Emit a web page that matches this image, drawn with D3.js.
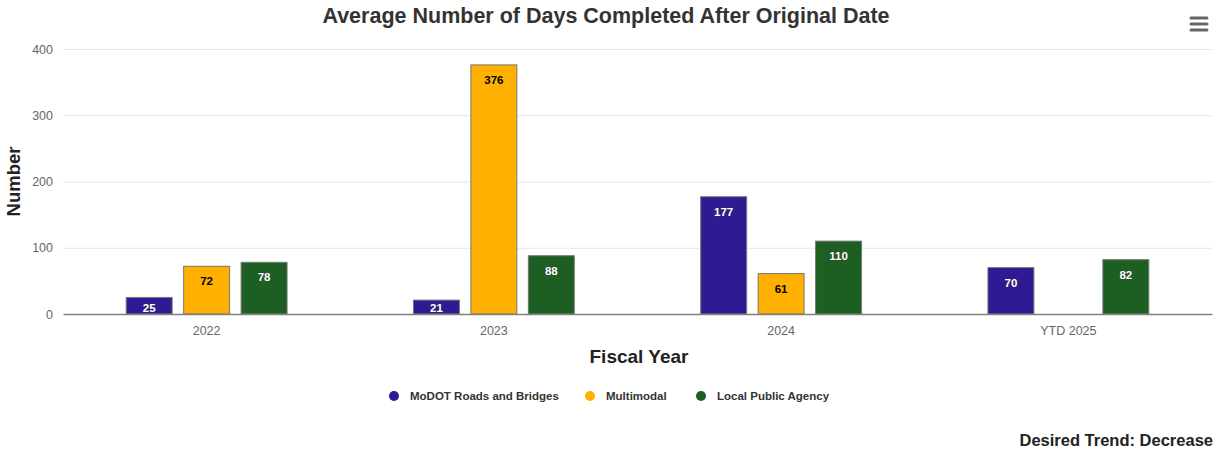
<!DOCTYPE html>
<html>
<head>
<meta charset="utf-8">
<script src="https://cdn.jsdelivr.net/npm/d3@7"></script>
<style>
  html, body { margin: 0; padding: 0; background: #fff; }
  svg { display: block; font-family: "Liberation Sans", Arial, sans-serif; }
</style>
</head>
<body>
<svg id="chart" width="1215" height="449"></svg>
<script>
// Fiscal-year categories and the average days per program
const categories = ["2022", "2023", "2024", "YTD 2025"];
const seriesNames = ["MoDOT Roads and Bridges", "Multimodal", "Local Public Agency"];
const seriesColors = ["#2f1a94", "#ffb000", "#1d5e22"];
const modotValues = [25, 21, 177, 70];
const multimodalValues = [72, 376, 61, null];
const lpaValues = [78, 88, 110, 82];
const yTicks = [0, 100, 200, 300, 400];

const series = [modotValues, multimodalValues, lpaValues];

const svg = d3.select("#chart");
const margin = { left: 63, right: 3, top: 49 };
const W = 1215;
const plotBottom = 314;

const x = d3.scaleBand().domain(categories).range([margin.left, W - margin.right]);
const y = d3.scaleLinear().domain([0, 400]).range([plotBottom, margin.top]);

// group padding 0.2 of the band each side, point padding 0.1 per slot
const groupPad = 0.2 * x.bandwidth();
const slot = (x.bandwidth() - 2 * groupPad) / series.length;
const barW = slot * 0.8;

// gridlines
svg.append("g")
  .selectAll("line")
  .data(yTicks.filter(d => d > 0))
  .join("line")
  .attr("x1", margin.left).attr("x2", W - margin.right)
  .attr("y1", d => y(d) + 0.5).attr("y2", d => y(d) + 0.5)
  .attr("stroke", "#e6e6e6").attr("stroke-width", 1);

// y axis labels
const yAxis = d3.axisLeft(y).tickValues(yTicks).tickSize(0).tickPadding(10);
const yg = svg.append("g").attr("transform", `translate(${margin.left},0)`).call(yAxis);
yg.select(".domain").remove();
yg.selectAll("text").attr("fill", "#666").attr("font-size", 12.5).attr("font-family", "Liberation Sans, Arial, sans-serif");

// bars
series.forEach((vals, si) => {
  const g = svg.append("g");
  const data = categories.map((c, i) => ({ c, v: vals[i] })).filter(d => d.v != null);
  g.selectAll("rect")
    .data(data)
    .join("rect")
    .attr("x", d => x(d.c) + groupPad + si * slot + (slot - barW) / 2)
    .attr("y", d => y(d.v))
    .attr("width", barW)
    .attr("height", d => y(0) - y(d.v))
    .attr("fill", seriesColors[si])
    .attr("stroke", "#777")
    .attr("stroke-width", 1);

  const dark = si !== 1;
  g.selectAll("text")
    .data(data)
    .join("text")
    .attr("x", d => x(d.c) + groupPad + si * slot + slot / 2)
    .attr("y", d => Math.min(y(d.v) + 19, y(0) - 2))
    .attr("text-anchor", "middle")
    .attr("font-size", 11.5)
    .attr("font-weight", "bold")
    .attr("fill", dark ? "#fff" : "#000")
    .attr("stroke", dark ? "#333" : "#fff")
    .attr("stroke-width", dark ? 0.6 : 0)
    .attr("paint-order", "stroke")
    .text(d => d.v);
});

// x axis
const xAxis = d3.axisBottom(x).tickSize(0).tickPadding(12);
const xg = svg.append("g").attr("transform", `translate(0,${plotBottom})`).call(xAxis);
xg.select(".domain").attr("stroke", "#808080").attr("stroke-width", 1.5);
xg.selectAll("text").attr("fill", "#666").attr("font-size", 12.5).attr("font-family", "Liberation Sans, Arial, sans-serif");

// titles
svg.append("text")
  .attr("x", 606).attr("y", 23)
  .attr("text-anchor", "middle")
  .attr("font-size", 21.5).attr("font-weight", "bold").attr("fill", "#333")
  .text("Average Number of Days Completed After Original Date");

svg.append("text")
  .attr("transform", `translate(20,${(margin.top + plotBottom) / 2}) rotate(-90)`)
  .attr("text-anchor", "middle")
  .attr("font-size", 18.5).attr("font-weight", "bold").attr("fill", "#222")
  .text("Number");

svg.append("text")
  .attr("x", 639).attr("y", 363)
  .attr("text-anchor", "middle")
  .attr("font-size", 19).attr("font-weight", "bold").attr("fill", "#222")
  .text("Fiscal Year");

// legend
const legendItems = [
  { name: seriesNames[0], color: seriesColors[0], cx: 394 },
  { name: seriesNames[1], color: seriesColors[1], cx: 590 },
  { name: seriesNames[2], color: seriesColors[2], cx: 701 }
];
const lg = svg.append("g");
legendItems.forEach(it => {
  lg.append("circle").attr("cx", it.cx).attr("cy", 396).attr("r", 5).attr("fill", it.color);
  lg.append("text").attr("x", it.cx + 16).attr("y", 400)
    .attr("font-size", 11.5).attr("font-weight", "bold").attr("fill", "#333")
    .text(it.name);
});

// trend note
svg.append("text")
  .attr("x", 1213).attr("y", 446)
  .attr("text-anchor", "end")
  .attr("font-size", 16.5).attr("font-weight", "bold").attr("fill", "#222")
  .text("Desired Trend: Decrease");

// menu icon
const menu = svg.append("g").attr("stroke", "#666").attr("stroke-width", 3).attr("stroke-linecap", "round");
[18, 24, 30].forEach(yy => {
  menu.append("line").attr("x1", 1191).attr("x2", 1207).attr("y1", yy).attr("y2", yy);
});
</script>
</body>
</html>
